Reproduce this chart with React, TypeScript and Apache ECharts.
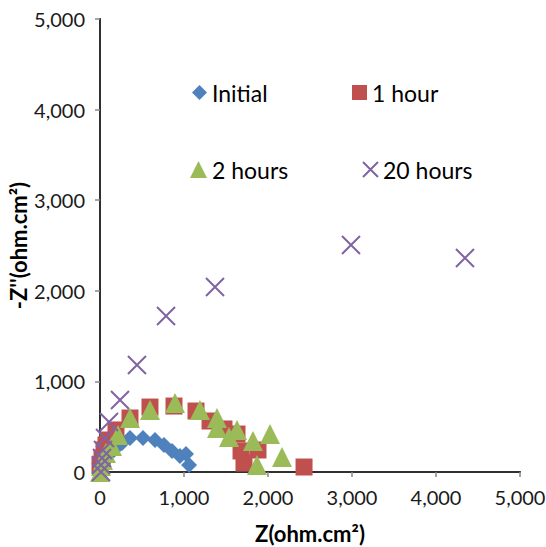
import React, { useEffect, useRef } from "react";
import * as echarts from "echarts";

const xTicks = [0, 1000, 2000, 3000, 4000, 5000];
const yTicks = [0, 1000, 2000, 3000, 4000, 5000];

const initialX = [12, 24, 48, 95, 167, 262, 357, 512, 655, 762, 857, 952, 1024, 1060];
const initialY = [22, 55, 110, 188, 243, 320, 375, 375, 353, 298, 232, 177, 199, 77];

const hour1X = [0, 24, 48, 71, 95, 190, 357, 595, 881, 1143, 1310, 1476, 1631, 1679, 1881, 1714, 2429];
const hour1Y = [77, 155, 243, 298, 353, 464, 596, 717, 728, 673, 563, 475, 419, 232, 243, 99, 55];

const hour2X = [0, 12, 36, 71, 143, 214, 357, 595, 893, 1190, 1393, 1393, 1631, 1536, 1821, 2024, 1869, 2167];
const hour2Y = [0, 66, 133, 210, 287, 408, 596, 684, 762, 684, 596, 486, 464, 386, 342, 419, 77, 166];

const hour20X = [12, 12, 24, 36, 60, 107, 238, 440, 786, 1369, 2988, 4345];
const hour20Y = [0, 77, 155, 243, 375, 552, 795, 1181, 1722, 2042, 2506, 2362];

const names = ["Initial", "1 hour", "2 hours", "20 hours"];

const zip = (xs: number[], ys: number[]) => xs.map((x, i) => [x, ys[i]]);

const FONT = "Lato";

export default function App() {
  const ref = useRef<HTMLDivElement>(null);
  useEffect(() => {
    if (!ref.current) return;
    const chart = echarts.init(ref.current, null, { renderer: "svg" });
    const legendText = { fontFamily: FONT, fontSize: 23, color: "#000" };
    const mkLegend = (name: string, left: number, top: number, w = 15) => ({
      data: [name],
      left,
      top,
      padding: 0,
      itemWidth: w,
      itemHeight: w,
      textStyle: legendText,
      selectedMode: false,
    });
    const tickLabel = {
      fontFamily: FONT,
      fontSize: 20,
      color: "#1a1a1a",
      margin: 15,
      formatter: (v: number) => v.toLocaleString("en-US"),
    };
    const title = { fontFamily: FONT, fontSize: 22, fontWeight: "bold", color: "#000" };
    chart.setOption({
      animation: false,
      backgroundColor: "#fff",
      grid: { left: 100, right: 26, top: 19, bottom: 75, containLabel: false, outerBoundsMode: "none" },
      legend: [
        mkLegend(names[0], 192, 81),
        mkLegend(names[1], 352, 81),
        mkLegend(names[2], 190, 158, 17),
        mkLegend(names[3], 362, 158, 15),
      ],
      xAxis: [
        {
          type: "value",
          min: xTicks[0],
          max: xTicks[xTicks.length - 1],
          interval: 1000,
          name: "Z(ohm.cm²)",
          nameLocation: "middle",
          nameGap: 50,
          nameMoveOverlap: false,
          nameTextStyle: title,
          axisLine: { show: true, lineStyle: { color: "#868686", width: 2 } },
          axisTick: { show: true, length: 5, lineStyle: { color: "#868686", width: 1.5 } },
          axisLabel: tickLabel,
          splitLine: { show: false },
        },
        {
          type: "value",
          position: "top",
          min: 0,
          max: 5000,
          axisLine: { show: true, lineStyle: { color: "#303030", width: 2 } },
          axisTick: { show: false },
          axisLabel: { show: false },
          splitLine: { show: false },
        },
      ],
      yAxis: [
        {
          type: "value",
          min: yTicks[0],
          max: yTicks[yTicks.length - 1],
          interval: 1000,
          name: "-Z''(ohm.cm²)",
          nameLocation: "middle",
          nameGap: 71,
          nameMoveOverlap: false,
          nameRotate: 90,
          nameTextStyle: title,
          axisLine: { show: true, lineStyle: { color: "#868686", width: 2 } },
          axisTick: { show: true, length: 5, lineStyle: { color: "#868686", width: 1.5 } },
          axisLabel: tickLabel,
          splitLine: { show: false },
        },
        {
          type: "value",
          position: "right",
          min: 0,
          max: 5000,
          axisLine: { show: true, lineStyle: { color: "#303030", width: 2 } },
          axisTick: { show: false },
          axisLabel: { show: false },
          splitLine: { show: false },
        },
      ],
      series: [
        {
          name: names[0],
          type: "scatter",
          symbol: "diamond",
          symbolSize: 16,
          itemStyle: { color: "#4F81BD", opacity: 1 },
          data: zip(initialX, initialY),
          z: 2,
        },
        {
          name: names[1],
          type: "scatter",
          symbol: "rect",
          symbolSize: 17,
          itemStyle: { color: "#C0504D", opacity: 1 },
          data: zip(hour1X, hour1Y),
          z: 3,
        },
        {
          name: names[2],
          type: "scatter",
          symbol: "triangle",
          symbolSize: 20,
          itemStyle: { color: "#9BBB59", opacity: 1 },
          data: zip(hour2X, hour2Y),
          z: 4,
        },
        {
          name: names[3],
          type: "scatter",
          symbol: "path://M0,0L10,10M10,0L0,10",
          symbolSize: 18,
          itemStyle: { color: "rgba(0,0,0,0)", borderColor: "#8064A2", borderWidth: 2, opacity: 1 },
          data: zip(hour20X, hour20Y),
          z: 5,
        },
      ],
    });
    return () => chart.dispose();
  }, []);
  return <div ref={ref} style={{ width: 546, height: 547, position: "absolute", left: 0, top: 0 }} />;
}
